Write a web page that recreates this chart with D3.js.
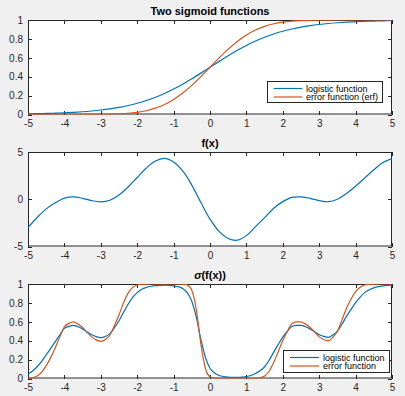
<!DOCTYPE html>
<html>
<head>
<meta charset="utf-8">
<script src="https://cdn.jsdelivr.net/npm/d3@7"></script>
<style>
  html, body { margin: 0; padding: 0; background: #f0f0f0; }
  svg { display: block; font-family: "Liberation Sans", Arial, Helvetica, sans-serif; }
  .tick text { fill: #262626; font-size: 10px; }
  .tick line { stroke: #262626; }
</style>
</head>
<body>
<div id="chart"></div>
<script>
// x grid (step 0.25)
const xsCoarse = [-5,-4.75,-4.5,-4.25,-4,-3.75,-3.5,-3.25,-3,-2.75,-2.5,-2.25,-2,-1.75,-1.5,-1.25,-1,-0.75,-0.5,-0.25,
  0,0.25,0.5,0.75,1,1.25,1.5,1.75,2,2.25,2.5,2.75,3,3.25,3.5,3.75,4,4.25,4.5,4.75,5];

// panel 1: the two sigmoids
const logistic1 = [0.0067,0.0086,0.0110,0.0141,0.0180,0.0230,0.0293,0.0373,0.0474,0.0601,0.0759,0.0953,0.1192,0.1480,0.1824,0.2227,0.2689,0.3208,0.3775,0.4378,
  0.5,0.5622,0.6225,0.6792,0.7311,0.7773,0.8176,0.8520,0.8808,0.9047,0.9241,0.9399,0.9526,0.9627,0.9707,0.9770,0.9820,0.9859,0.9890,0.9914,0.9933];
const erf1 = [0,0,0,0,0,0.0001,0.0002,0.0006,0.0013,0.0030,0.0062,0.0122,0.0228,0.0401,0.0668,0.1056,0.1587,0.2266,0.3085,0.4013,
  0.5,0.5987,0.6915,0.7734,0.8413,0.8944,0.9332,0.9599,0.9772,0.9878,0.9938,0.9970,0.9987,0.9994,0.9998,0.9999,1,1,1,1,1];

// panel 2: f(x)
const fx = [-3.00,-1.93,-1.02,-0.38,0.12,0.25,0.10,-0.15,-0.27,-0.10,0.45,1.30,2.30,3.30,4.05,4.33,3.95,3.00,1.50,-0.35,
  -2.10,-3.40,-4.15,-4.33,-3.85,-2.90,-1.95,-0.95,-0.25,0.20,0.25,0.10,-0.15,-0.26,0.00,0.62,1.38,2.25,3.12,3.88,4.30];

// panel 3: sigma(f(x)), finer grid (step 0.125) because of the steep parts
const xsFine = [-5,-4.875,-4.75,-4.625,-4.5,-4.375,-4.25,-4.125,-4,-3.875,-3.75,-3.625,-3.5,-3.375,-3.25,-3.125,
  -3,-2.875,-2.75,-2.625,-2.5,-2.375,-2.25,-2.125,-2,-1.875,-1.75,-1.625,-1.5,-1.375,-1.25,-1.125,
  -1,-0.875,-0.75,-0.625,-0.5,-0.375,-0.25,-0.125,0,0.125,0.25,0.375,0.5,0.625,0.75,0.875,
  1,1.125,1.25,1.375,1.5,1.625,1.75,1.875,2,2.125,2.25,2.375,2.5,2.625,2.75,2.875,
  3,3.125,3.25,3.375,3.5,3.625,3.75,3.875,4,4.125,4.25,4.375,4.5,4.625,4.75,4.875,5];
const logistic3 = [0.0474,0.0794,0.1245,0.1824,0.2497,0.3186,0.3894,0.4626,0.5300,0.5523,0.5622,0.5474,0.5250,0.4925,0.4626,0.4427,
  0.4329,0.4452,0.4750,0.5374,0.6106,0.7006,0.7858,0.8581,0.9089,0.9437,0.9644,0.9763,0.9829,0.9858,0.9870,0.9852,
  0.9811,0.9713,0.9526,0.9089,0.8176,0.6457,0.4134,0.2227,0.1091,0.0573,0.0323,0.0208,0.0155,0.0134,0.0130,0.0155,
  0.0208,0.0323,0.0522,0.0816,0.1245,0.1931,0.2789,0.3612,0.4378,0.5,0.5498,0.5622,0.5622,0.5474,0.5250,0.4950,
  0.4626,0.4452,0.4354,0.4601,0.5,0.5744,0.6570,0.7311,0.8022,0.8618,0.9089,0.9388,0.9589,0.9721,0.9802,0.9845,0.9866];
const erf3 = [0.0013,0.0071,0.0256,0.0668,0.1357,0.2236,0.3264,0.4404,0.5478,0.5832,0.5987,0.5753,0.5398,0.4880,0.4404,0.4090,
  0.3936,0.4129,0.4602,0.5596,0.6736,0.8023,0.9032,0.9641,0.9893,0.9976,0.9995,0.9999,1,1,1,1,
  1,0.9998,0.9987,0.9893,0.9332,0.7257,0.3632,0.1056,0.0179,0.0026,0.0003,0.0001,0,0,0,0,
  0.0001,0.0003,0.0019,0.0078,0.0256,0.0764,0.1711,0.2843,0.4013,0.5,0.5793,0.5987,0.5987,0.5753,0.5398,0.4920,
  0.4404,0.4129,0.3974,0.4364,0.5,0.6179,0.7422,0.8413,0.9192,0.9664,0.9893,0.9968,0.9992,0.9998,1,1,1];

const xTicks = [-5,-4,-3,-2,-1,0,1,2,3,4,5];
const yTicksSig = [0,0.2,0.4,0.6,0.8,1];
const yTicksF = [-5,0,5];

const W = 405, H = 396;
const left = 28, right = 392, axH = 94.5;
const tops = [20, 152, 284];
const blue = "#0072bd", orange = "#d95319", ink = "#262626";

const svg = d3.select("#chart").append("svg")
  .attr("width", W).attr("height", H);

const x = d3.scaleLinear().domain([-5, 5]).range([left, right]);

function panel(i, yDomain, yTicks, title, series, legend) {
  const top = tops[i], bottom = top + axH;
  const y = d3.scaleLinear().domain(yDomain).range([bottom, top]);
  const g = svg.append("g");

  g.append("rect")
    .attr("x", left).attr("y", top)
    .attr("width", right - left).attr("height", axH)
    .attr("fill", "#fff");

  g.append("clipPath").attr("id", "clip" + i)
    .append("rect")
    .attr("x", left).attr("y", top)
    .attr("width", right - left).attr("height", axH);

  const fmt = d => String(d);
  g.append("g").attr("transform", `translate(0,${bottom})`)
    .call(d3.axisBottom(x).tickValues(xTicks).tickFormat(fmt).tickSizeInner(-4).tickSizeOuter(0).tickPadding(5));
  g.append("g").attr("transform", `translate(0,${top})`)
    .call(d3.axisTop(x).tickValues(xTicks).tickFormat("").tickSizeInner(-4).tickSizeOuter(0));
  g.append("g").attr("transform", `translate(${left},0)`)
    .call(d3.axisLeft(y).tickValues(yTicks).tickFormat(fmt).tickSizeInner(-4).tickSizeOuter(0).tickPadding(5));
  g.append("g").attr("transform", `translate(${right},0)`)
    .call(d3.axisRight(y).tickValues(yTicks).tickFormat("").tickSizeInner(-4).tickSizeOuter(0));
  g.selectAll(".domain").remove();
  g.selectAll(".tick line").attr("shape-rendering", "crispEdges");

  g.append("rect")
    .attr("x", left + 0.5).attr("y", top + 0.5)
    .attr("width", right - left - 1).attr("height", axH - 1)
    .attr("fill", "none").attr("stroke", ink).attr("stroke-width", 1);

  series.forEach(s => {
    const line = d3.line()
      .x((d, k) => x(s.xs[k]))
      .y(d => y(d))
      .curve(s.curve);
    g.append("path")
      .attr("clip-path", `url(#clip${i})`)
      .attr("d", line(s.values))
      .attr("fill", "none")
      .attr("stroke", s.color)
      .attr("stroke-width", 1.2);
  });

  const t = g.append("text")
    .attr("x", (left + right) / 2).attr("y", top - 5.5)
    .attr("text-anchor", "middle")
    .attr("font-size", "11px").attr("font-weight", "bold")
    .attr("fill", "#000");
  title(t);

  if (legend) {
    const lg = g.append("g");
    lg.append("rect")
      .attr("x", legend.x + 0.5).attr("y", legend.y + 0.5)
      .attr("width", legend.w).attr("height", legend.h)
      .attr("fill", "#fff").attr("stroke", ink).attr("stroke-width", 1);
    legend.items.forEach((it, k) => {
      const ly = legend.y + 7.5 + k * 8.5;
      lg.append("line")
        .attr("x1", legend.x + 7).attr("x2", legend.x + 7 + legend.len)
        .attr("y1", ly).attr("y2", ly)
        .attr("stroke", it.color).attr("stroke-width", 1.2);
      lg.append("text")
        .attr("x", legend.x + 11 + legend.len).attr("y", ly + 3.2)
        .attr("font-size", "9px").attr("fill", "#000")
        .text(it.label);
    });
  }
}

const smooth = d3.curveCatmullRom.alpha(0.5);

panel(0, [0, 1], yTicksSig,
  t => t.text("Two sigmoid functions"),
  [{ xs: xsCoarse, values: logistic1, color: blue, curve: smooth },
   { xs: xsCoarse, values: erf1, color: orange, curve: d3.curveMonotoneX }],
  { x: 267, y: 81, w: 115, h: 21, len: 28,
    items: [{ label: "logistic function", color: blue }, { label: "error function (erf)", color: orange }] });

panel(1, [-5, 5], yTicksF,
  t => t.text("f(x)"),
  [{ xs: xsCoarse, values: fx, color: blue, curve: smooth }],
  null);

panel(2, [0, 1], yTicksSig,
  t => {
    t.append("tspan").attr("font-style", "italic").text("\u03c3");
    t.append("tspan").text("(f(x))");
  },
  [{ xs: xsFine, values: logistic3, color: blue, curve: d3.curveMonotoneX },
   { xs: xsFine, values: erf3, color: orange, curve: d3.curveMonotoneX }],
  { x: 283, y: 350, w: 106, h: 22, len: 29,
    items: [{ label: "logistic function", color: blue }, { label: "error function", color: orange }] });
</script>
</body>
</html>
